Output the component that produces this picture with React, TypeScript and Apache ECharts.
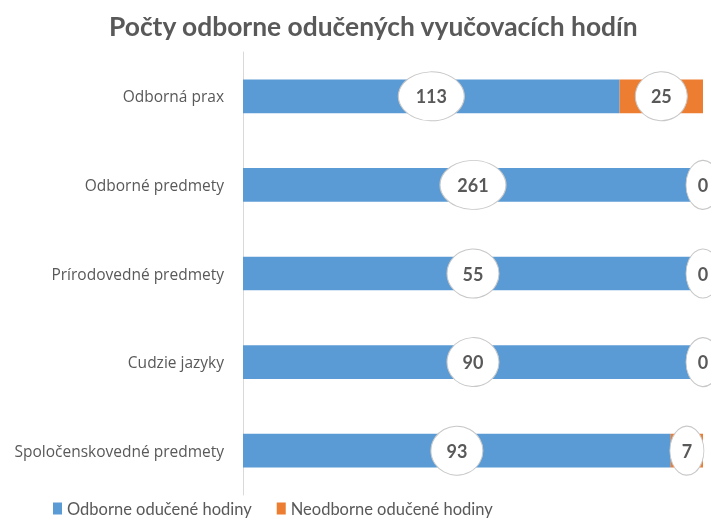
import React, { useEffect, useRef } from "react";
import * as echarts from "echarts";

const categories = [
  "Odborná prax",
  "Odborné predmety",
  "Prírodovedné predmety",
  "Cudzie jazyky",
  "Spoločenskovedné predmety",
];
const odborne = [113, 261, 55, 90, 93];
const neodborne = [25, 0, 0, 0, 7];
const seriesNames = ["Odborne odučené hodiny", "Neodborne odučené hodiny"];

const ellipseSize = (v: number): number[] => {
  const d = String(v).length;
  return [d >= 3 ? 66 : d === 2 ? 52 : 34, 49];
};

export default function App() {
  const ref = useRef<HTMLDivElement>(null);
  useEffect(() => {
    if (!ref.current) return;
    const chart = echarts.init(ref.current, null, { renderer: "svg" });
    const totals = odborne.map((v, i) => v + neodborne[i]);
    const pctA = odborne.map((v, i) => (v / totals[i]) * 100);
    const pctB = neodborne.map((v, i) => (v / totals[i]) * 100);
    const labelFont = {
      fontFamily: "Lato, 'Open Sans', sans-serif",
      fontWeight: "bold" as const,
      fontSize: 18,
      color: "#595959",
    };
    const ellipseSeries = (vals: number[], centers: number[]) => ({
      type: "scatter",
      symbol: "circle",
      clip: false,
      z: 5,
      silent: true,
      itemStyle: {
        color: "#ffffff",
        borderColor: "#c8c8c8",
        borderWidth: 1,
        opacity: 1,
      },
      label: {
        show: true,
        position: "inside",
        formatter: (p: any) => String(p.data.raw),
        ...labelFont,
      },
      data: vals.map((v, i) => ({
        value: [centers[i], categories[i]],
        raw: v,
        symbolSize: ellipseSize(v),
      })),
    });
    chart.setOption({
      animation: false,
      title: {
        text: "Počty odborne odučených vyučovacích hodín",
        left: 104,
        top: 8,
        textStyle: {
          fontFamily: "Lato, 'Open Sans', sans-serif",
          fontWeight: "bold",
          fontSize: 26.4,
          color: "#595959",
        },
      },
      legend: {
        data: seriesNames,
        top: 495,
        left: 48,
        icon: "rect",
        itemWidth: 9,
        itemHeight: 12,
        itemGap: 25,
        textStyle: {
          fontFamily: "Lato, 'Open Sans', sans-serif",
          fontSize: 16.5,
          color: "#595959",
        },
      },
      grid: { left: 243, right: 8, top: 52, bottom: 24 },
      xAxis: {
        type: "value",
        min: 0,
        max: 100,
        show: false,
      },
      yAxis: {
        type: "category",
        data: categories,
        inverse: true,
        axisLine: { show: true, lineStyle: { color: "#d9d9d9" } },
        axisTick: { show: false },
        axisLabel: {
          margin: 19,
          fontFamily: "'Open Sans', Lato, sans-serif",
          fontSize: 15.5,
          color: "#595959",
        },
      },
      series: [
        {
          name: seriesNames[0],
          type: "bar",
          stack: "total",
          barWidth: "38%",
          itemStyle: { color: "#5B9BD5" },
          data: pctA,
        },
        {
          name: seriesNames[1],
          type: "bar",
          stack: "total",
          barWidth: "38%",
          itemStyle: { color: "#ED7D31" },
          data: pctB,
        },
        ellipseSeries(
          odborne,
          pctA.map((a) => a / 2)
        ),
        ellipseSeries(
          neodborne,
          pctA.map((a, i) => a + pctB[i] / 2)
        ),
      ],
    });
    return () => chart.dispose();
  }, []);
  return (
    <div
      ref={ref}
      style={{ position: "fixed", left: 0, top: 0, width: 711, height: 519 }}
    />
  );
}
